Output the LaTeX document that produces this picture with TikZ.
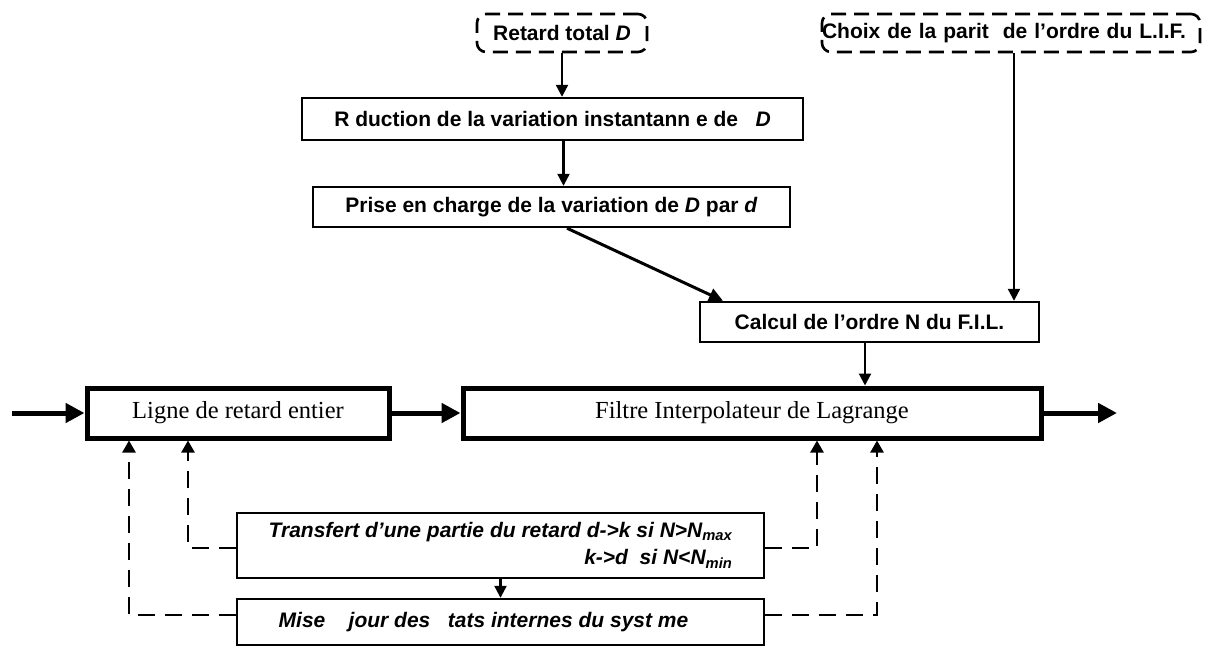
\documentclass[tikz,border=0pt]{standalone}
\usepackage{fontspec}
\setmainfont{Liberation Serif}
\newfontfamily\arialf{Liberation Sans}
\usetikzlibrary{arrows.meta}
\begin{document}
\begin{tikzpicture}[x=1pt,y=-1pt,
  dbox/.style={draw, line width=2.6, dash pattern=on 15pt off 8pt, rounded corners=9, minimum height=38, inner sep=0,
    font=\arialf\bfseries\fontsize{21}{25}\selectfont},
  sbox/.style={draw, line width=2.4, inner sep=0, font=\arialf\bfseries\fontsize{21}{25}\selectfont},
  mbox/.style={draw, line width=5, inner sep=0, minimum height=50, font=\fontsize{24.5}{28}\selectfont},
  ibox/.style={draw, line width=2.4, inner sep=0, minimum width=527, font=\arialf\bfseries\itshape\fontsize{21}{27}\selectfont},
  arr/.style={line width=2.2, -{Triangle[length=12,width=12]}},
  darr/.style={line width=3, -{Triangle[length=14,width=13]}},
  marr/.style={line width=5, -{Triangle[length=19,width=19]}},
  fb/.style={line width=2.4, dash pattern=on 17pt off 10pt, -{Triangle[length=12,width=13]}}
]
\useasboundingbox (0,0) rectangle (1210,646);

\node[dbox, minimum width=170] (ret) at (562,33) {Retard total \textit{D}};
\node[dbox, minimum width=378, text width=378, align=left] (choix) at (1011,33) {Choix de la parit~~de l’ordre du L.I.F.};
\node[sbox, minimum width=501, minimum height=42] (red) at (552.5,119) {R duction de la variation instantann e de~~~\textit{D}};
\node[sbox, minimum width=477, minimum height=40] (prise) at (551.5,207) {Prise en charge de la variation de \textit{D} par \textit{d}};
\node[sbox, minimum width=339, minimum height=40] (calc) at (869.5,322) {Calcul de l’ordre N du F.I.L.};
\node[mbox, minimum width=302] (ligne) at (238,413) {Ligne de retard entier};
\node[mbox, minimum width=578] (fil) at (752,413) {Filtre Interpolateur de Lagrange};
\node[ibox, minimum height=65, align=right] (trans) at (500.5,545.5)
  {Transfert d’une partie du retard d->k si N>N\textsubscript{max}\\ k->d~~si N<N\textsubscript{min}};
\node[ibox, minimum height=46] (mise) at (500.5,622) {Mise~~~~jour des~~~tats internes du syst~me\hspace*{34pt}};

\coordinate (in) at (12,413);
\coordinate (out) at (1117,413);

\draw[arr] (ret.south) -- (ret.south |- red.north);
\draw[arr] ([xshift=11]red.south) -- ([xshift=11]red.south |- prise.north);
\draw[darr] ([xshift=15.5]prise.south) -- ([xshift=-146.5]calc.north);
\draw[arr] ([xshift=3]choix.south) -- ([xshift=3]choix.south |- calc.north);
\draw[arr] ([xshift=-4.5]calc.south) -- ([xshift=-4.5]calc.south |- fil.north);

\draw[marr] (in) -- (ligne.west);
\draw[marr] (ligne.east) -- (fil.west);
\draw[marr] (fil.east) -- (out);

\draw[arr] (trans.south) -- (mise.north);

\draw[fb] ([yshift=-2.5]trans.west) -| ([xshift=-50]ligne.south);
\draw[fb] ([yshift=7]mise.west) -| ([xshift=-109]ligne.south);
\draw[fb] ([yshift=-2.5]trans.east) -| ([xshift=65]fil.south);
\draw[fb] ([yshift=7]mise.east) -| ([xshift=125]fil.south);
\end{tikzpicture}
\end{document}
